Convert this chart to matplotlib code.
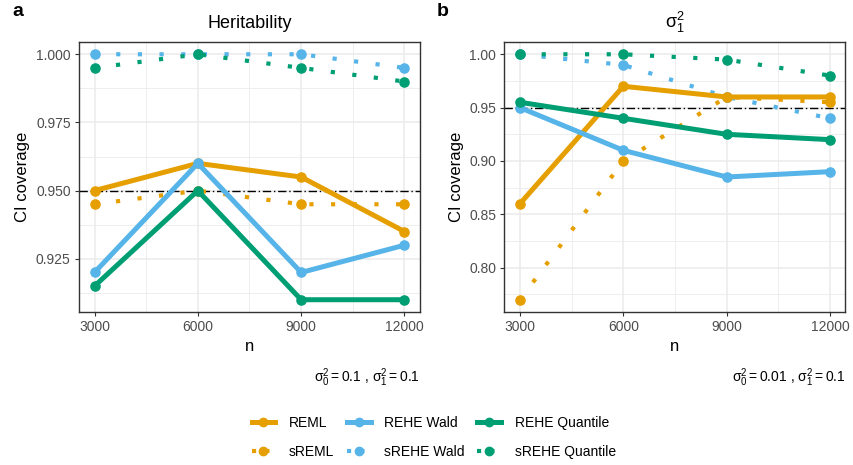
import matplotlib
matplotlib.use("Agg")
import matplotlib.pyplot as plt
from matplotlib.lines import Line2D
from matplotlib.ticker import FixedLocator

plt.rcParams['font.family'] = ['Liberation Sans', 'DejaVu Sans']
plt.rcParams['mathtext.fontset'] = 'custom'
plt.rcParams['mathtext.rm'] = 'Liberation Sans'
plt.rcParams['mathtext.it'] = 'Liberation Sans'
plt.rcParams['mathtext.bf'] = 'Liberation Sans:bold'

n_values = [3000, 6000, 9000, 12000]
methods = ["REML", "REHE Wald", "REHE Quantile"]
colors = {"REML": "#E69F00", "REHE Wald": "#56B4E9", "REHE Quantile": "#009E73"}

# Panel a: Heritability
herit = {
    "REML": [0.950, 0.960, 0.955, 0.935],
    "REHE Wald": [0.920, 0.960, 0.920, 0.930],
    "REHE Quantile": [0.915, 0.950, 0.910, 0.910],
    "sREML": [0.945, 0.950, 0.945, 0.945],
    "sREHE Wald": [1.000, 1.000, 1.000, 0.995],
    "sREHE Quantile": [0.995, 1.000, 0.995, 0.990],
}
# Panel b: sigma_1^2
sig1 = {
    "REML": [0.860, 0.970, 0.960, 0.960],
    "REHE Wald": [0.950, 0.910, 0.885, 0.890],
    "REHE Quantile": [0.955, 0.940, 0.925, 0.920],
    "sREML": [0.770, 0.900, 0.960, 0.955],
    "sREHE Wald": [1.000, 0.990, 0.960, 0.940],
    "sREHE Quantile": [1.000, 1.000, 0.995, 0.980],
}

panels = [
    dict(data=herit, title="Heritability", label="a",
         yticks=[0.925, 0.950, 0.975, 1.000], fmt="{:.3f}",
         note=r"$\mathregular{\sigma_0^2 = 0.1}$ , $\mathregular{\sigma_1^2 = 0.1}$"),
    dict(data=sig1, title=r"$\mathregular{\sigma_1^2}$", label="b",
         yticks=[0.80, 0.85, 0.90, 0.95, 1.00], fmt="{:.2f}",
         note=r"$\mathregular{\sigma_0^2 = 0.01}$ , $\mathregular{\sigma_1^2 = 0.1}$"),
]

fig = plt.figure(figsize=(8.54, 4.65), dpi=100)
lefts = [79/854, 504.5/854]
w = 341/854
bottom = 1 - 312/465
h = 270/465

dot_style = (0, (1, 4.2))
for p, left in zip(panels, lefts):
    ax = fig.add_axes([left, bottom, w, h])
    d = p["data"]
    allv = [v for k in d for v in d[k]]
    lo, hi = min(allv), max(allv)
    pad = (hi - lo) * 0.05
    ax.set_ylim(lo - pad, hi + pad)
    ax.set_xlim(3000 - 450, 12000 + 450)
    ax.set_axisbelow(True)
    ax.set_xticks(n_values)
    ax.set_xticklabels([str(v) for v in n_values])
    ax.xaxis.set_minor_locator(FixedLocator([4500, 7500, 10500]))
    yt = p["yticks"]
    ax.set_yticks(yt)
    ax.set_yticklabels([p["fmt"].format(v) for v in yt])
    step = yt[1] - yt[0]
    minors = [yt[0] - step / 2] + [v + step / 2 for v in yt]
    ax.yaxis.set_minor_locator(FixedLocator(minors))
    ax.grid(which="major", color="#EBEBEB", lw=1.1)
    ax.grid(which="minor", color="#EBEBEB", lw=0.6)
    ax.tick_params(which="minor", length=0)
    ax.tick_params(which="major", length=3, width=0.8, color="#333333",
                   labelsize=10, labelcolor="#4D4D4D", pad=3)
    for s in ax.spines.values():
        s.set_color("#333333")
        s.set_linewidth(1.0)
    ax.axhline(0.95, color="black", lw=1.0, ls=(0, (6, 2, 1, 2)), zorder=1.5)
    for m in methods:
        ax.plot(n_values, d["s" + m], color=colors[m], lw=3.0, ls=dot_style,
                dash_capstyle="butt", marker="o", ms=6.6, zorder=2)
    for m in methods:
        ax.plot(n_values, d[m], color=colors[m], lw=3.6,
                marker="o", ms=6.6, zorder=3, solid_capstyle="round")
    ax.set_xlabel("n", fontsize=12, labelpad=3)
    ax.set_ylabel("CI coverage", fontsize=12, labelpad=4)
    ax.set_title(p["title"], fontsize=13, pad=10)
    ax.text(1.0, -0.245, p["note"], transform=ax.transAxes, ha="right",
            va="center", fontsize=10)

fig.text(12/854, 1 - 12/465, "a", fontsize=14, fontweight="bold", va="center", ha="left")
fig.text(437/854, 1 - 12/465, "b", fontsize=14, fontweight="bold", va="center", ha="left")

handles = []
labels = []
for m in methods:
    handles.append(Line2D([], [], color=colors[m], lw=3.6, marker="o", ms=6))
    labels.append(m)
    handles.append(Line2D([], [], color=colors[m], lw=3.0, ls=(0, (1, 2.2)),
                          marker="o", ms=6, dash_capstyle="butt"))
    labels.append("s" + m)
fig.legend(handles, labels, ncol=3, loc="center", bbox_to_anchor=(0.508, 0.059),
           frameon=False, fontsize=10, handlelength=1.7, columnspacing=0.9,
           labelspacing=1.1, handletextpad=1.0)

fig.savefig("out.png", dpi=100)
